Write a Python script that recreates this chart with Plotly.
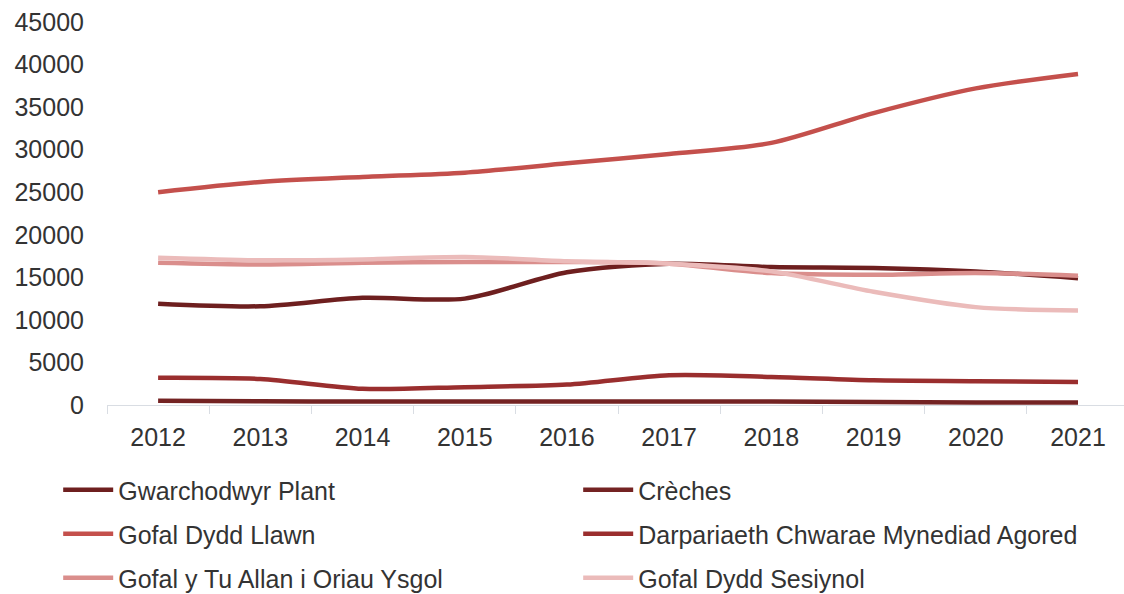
import plotly.graph_objects as go

years = ["2012", "2013", "2014", "2015", "2016", "2017", "2018", "2019", "2020", "2021"]

gwarchodwyr_plant = [11900, 11600, 12600, 12500, 15600, 16600, 16200, 16100, 15700, 14900]
creches = [500, 450, 400, 400, 400, 400, 400, 350, 300, 280]
gofal_dydd_llawn = [25000, 26200, 26800, 27300, 28400, 29500, 30800, 34300, 37200, 38900]
darpariaeth = [3200, 3050, 1900, 2100, 2400, 3500, 3300, 2900, 2800, 2700]
tu_allan = [16700, 16500, 16700, 16800, 16800, 16600, 15500, 15300, 15500, 15200]
sesiynol = [17300, 17000, 17100, 17400, 16900, 16600, 15700, 13300, 11500, 11100]

series = [
    ("Gwarchodwyr Plant", gwarchodwyr_plant, "#6E1F1F", "legend"),
    ("Crèches", creches, "#742323", "legend"),
    ("Gofal Dydd Llawn", gofal_dydd_llawn, "#C4504C", "legend2"),
    ("Darpariaeth Chwarae Mynediad Agored", darpariaeth, "#9A2E2E", "legend2"),
    ("Gofal y Tu Allan i Oriau Ysgol", tu_allan, "#DA8E8C", "legend3"),
    ("Gofal Dydd Sesiynol", sesiynol, "#EBBBBA", "legend3"),
]

fig = go.Figure()
for name, vals, color, lg in series:
    fig.add_trace(go.Scatter(
        x=years, y=vals, name=name, mode="lines", legend=lg,
        line=dict(color=color, width=4.5, shape="spline", smoothing=0.8),
    ))

font_family = "Liberation Sans, Arial, sans-serif"
text_color = "#333333"

# plot area: y from 22 (top) to 405 (bottom) -> height 383
def row_y(py):
    return (405 - py) / 383

legend_common = dict(
    orientation="h", x=-0.048, xref="paper", xanchor="left",
    yanchor="middle",
    entrywidth=455, entrywidthmode="pixels",
    itemwidth=50,
    font=dict(family=font_family, size=25, color=text_color),
    traceorder="normal",
    bgcolor="rgba(0,0,0,0)",
)

fig.update_layout(
    width=1124, height=594,
    margin=dict(l=107, r=0, t=22, b=189, autoexpand=False),
    paper_bgcolor="white", plot_bgcolor="white",
    font=dict(family=font_family, size=25, color=text_color),
    showlegend=True,
    legend=dict(legend_common, y=row_y(490)),
    legend2=dict(legend_common, y=row_y(534)),
    legend3=dict(legend_common, y=row_y(578)),
    xaxis=dict(
        type="category",
        range=[-0.5, 9.45],
        showgrid=False, zeroline=False,
        showline=True, linecolor="#D9DDE3", linewidth=1,
        ticks="outside", tickson="boundaries", ticklen=8, tickcolor="#D9DDE3",
        tickfont=dict(size=25, color=text_color),
        ticklabelstandoff=10,
    ),
    yaxis=dict(
        range=[0, 45000], dtick=5000, tickformat="d",
        showgrid=False, zeroline=False, showline=False,
        tickfont=dict(size=25, color=text_color),
        ticklabelstandoff=22,
    ),
)

fig.write_html(
    "out.html",
    config={"displayModeBar": False},
    post_script="document.body.style.margin='0';",
)
